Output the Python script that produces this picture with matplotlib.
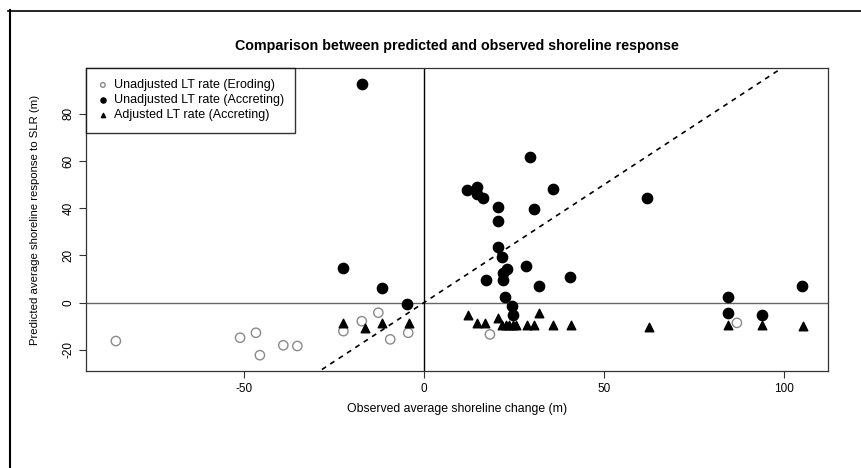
import matplotlib
matplotlib.use("Agg")
import matplotlib.pyplot as plt
from matplotlib.lines import Line2D

plt.rcParams['font.family'] = ['Liberation Sans', 'DejaVu Sans']
plt.rcParams['axes.unicode_minus'] = False

# Data
eroding_x = [-85.6, -51.1, -46.7, -45.6, -39.1, -35.2, -22.4, -17.3, -12.7, -9.4, -4.4, 18.3, 86.9]
eroding_y = [-16.3, -14.9, -12.8, -22.3, -18.1, -18.4, -12.1, -7.9, -4.3, -15.6, -12.8, -13.5, -8.6]

accreting_x = [-22.4, -17.3, -11.6, -4.8, 11.9, 14.8, 14.8, 16.5, 17.2, 20.6, 20.6, 20.6, 21.6,
               21.9, 22.0, 23.0, 22.5, 24.4, 24.8, 28.3, 29.4, 30.4, 31.8, 35.7, 40.6, 61.9,
               84.5, 84.3, 93.8, 104.9]
accreting_y = [14.6, 92.8, 6.2, -0.8, 47.9, 49.0, 46.2, 44.5, 9.7, 40.6, 34.5, 23.7, 19.5,
               12.5, 9.4, 14.2, 2.4, -1.3, -5.1, 15.6, 61.6, 39.6, 7.2, 48.3, 10.8, 44.1,
               2.4, -4.6, -5.1, 6.9]

adjusted_x = [-22.4, -16.4, -11.6, -4.1, 12.3, 14.6, 16.9, 20.6, 21.6, 22.8, 23.5, 24.6, 25.5,
              28.5, 30.4, 31.8, 35.9, 40.7, 62.6, 84.5, 93.8, 105.2]
adjusted_y = [-8.6, -10.7, -8.6, -8.6, -5.1, -8.6, -8.6, -6.5, -9.3, -9.3, -9.7, -9.7, -9.7,
              -9.3, -9.3, -4.3, -9.3, -9.3, -10.4, -9.7, -9.3, -10.0]

x_ticks = [-50, 0, 50, 100]
y_ticks = [-20, 0, 20, 40, 60, 80]

fig = plt.figure(figsize=(8.61, 4.68), dpi=100)
ax = fig.add_axes([86/861, 1-371/468, (828-86)/861, (371-68)/468])

ax.set_xlim(-93.9, 112.2)
ax.set_ylim(-29.0, 99.4)

# reference lines
ax.axhline(0, color='#666666', lw=1.0, zorder=1)
ax.axvline(0, color='black', lw=1.0, zorder=1)
ax.plot([-40, 120], [-40, 120], ls=(0, (3, 3)), color='black', lw=1.2, zorder=1)

ax.scatter(eroding_x, eroding_y, s=45, facecolors='none', edgecolors='#8a8a8a',
           linewidths=1.0, zorder=3, label='Unadjusted LT rate (Eroding)')
ax.scatter(accreting_x, accreting_y, s=55, color='black', zorder=3,
           label='Unadjusted LT rate (Accreting)')
ax.scatter(adjusted_x, adjusted_y, s=38, marker='^', color='black', zorder=3,
           label='Adjusted LT rate (Accreting)')

ax.set_xticks(x_ticks)
ax.set_yticks(y_ticks)
ax.tick_params(axis='both', labelsize=8.5, length=5, color='#333333')
for lab in ax.get_yticklabels():
    lab.set_rotation(90)
    lab.set_va('center')
for s in ax.spines.values():
    s.set_color('#333333')
    s.set_linewidth(0.9)

ax.set_title('Comparison between predicted and observed shoreline response',
             fontsize=10.3, fontweight='bold', pad=13)
ax.set_xlabel('Observed average shoreline change (m)', fontsize=8.8, labelpad=6)
ax.set_ylabel('Predicted average shoreline response to SLR (m)', fontsize=8.2, labelpad=16)

leg = ax.legend(loc='upper left', fontsize=9, frameon=True, fancybox=False,
                borderaxespad=0, handletextpad=0.4, labelspacing=0.25,
                markerscale=0.5, handlelength=0.9, borderpad=0.9)
leg.get_frame().set_edgecolor('black')
leg.get_frame().set_linewidth(1.0)

# outer scanned frame (left and top edges)
fig.add_artist(Line2D([10/861, 10/861], [0, 1-10/468], color='black', lw=1.5, transform=fig.transFigure))
fig.add_artist(Line2D([8/861, 1.0], [1-11/468, 1-11/468], color='black', lw=1.2, transform=fig.transFigure))

fig.savefig('out.png', dpi=100)
